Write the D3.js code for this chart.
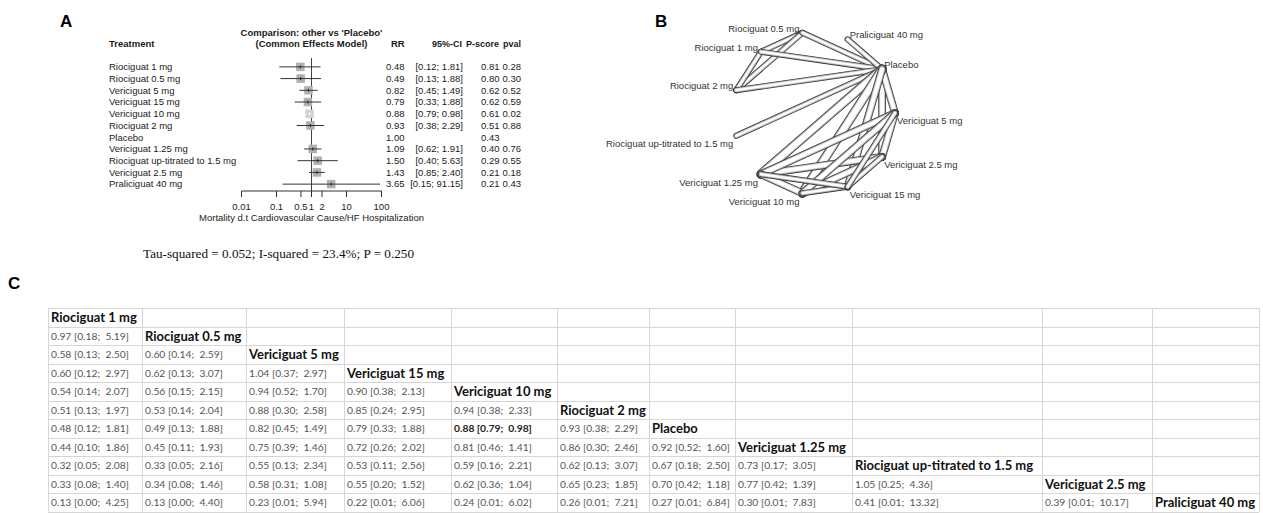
<!DOCTYPE html>
<html><head><meta charset="utf-8">
<script src="https://cdn.jsdelivr.net/npm/d3@7"></script>
<style>body{margin:0;background:#fff} svg{display:block}</style>
</head><body>
<svg id="c" width="1263" height="513"></svg>
<script>
// ---------- Panel A data ----------
const treatments = ["Riociguat 1 mg","Riociguat 0.5 mg","Vericiguat 5 mg","Vericiguat 15 mg","Vericiguat 10 mg","Riociguat 2 mg","Placebo","Vericiguat 1.25 mg","Riociguat up-titrated to 1.5 mg","Vericiguat 2.5 mg","Praliciguat 40 mg"];
const rr     = [0.48,0.49,0.82,0.79,0.88,0.93,1.00,1.09,1.50,1.43,3.65];
const ciLow  = [0.12,0.13,0.45,0.33,0.79,0.38,null,0.62,0.40,0.85,0.15];
const ciHigh = [1.81,1.88,1.49,1.88,0.98,2.29,null,1.91,5.63,2.40,91.15];
const pScore = [0.81,0.80,0.62,0.62,0.61,0.51,0.43,0.40,0.29,0.21,0.21];
const pVal   = [0.28,0.30,0.52,0.59,0.02,0.88,null,0.76,0.55,0.18,0.43];
const xTicks = [0.01,0.1,0.5,1,2,10,100];
const xTickLabels = ["0.01","0.1","0.5","1","2","10","100"];
const heterogeneity = "Tau-squared = 0.052; I-squared = 23.4%; P = 0.250";

// ---------- Panel B data ----------
const netNodes = ["Vericiguat 5 mg","Vericiguat 2.5 mg","Vericiguat 15 mg","Vericiguat 10 mg","Vericiguat 1.25 mg","Riociguat up-titrated to 1.5 mg","Riociguat 2 mg","Riociguat 1 mg","Riociguat 0.5 mg","Praliciguat 40 mg","Placebo"];
const edgeFrom = ["Riociguat 0.5 mg","Riociguat 0.5 mg","Riociguat 1 mg","Riociguat 0.5 mg","Riociguat 1 mg","Riociguat 2 mg","Riociguat up-titrated to 1.5 mg","Praliciguat 40 mg",
  "Vericiguat 1.25 mg","Vericiguat 2.5 mg","Vericiguat 5 mg","Vericiguat 10 mg","Vericiguat 15 mg",
  "Vericiguat 1.25 mg","Vericiguat 1.25 mg","Vericiguat 1.25 mg","Vericiguat 2.5 mg","Vericiguat 2.5 mg","Vericiguat 5 mg","Vericiguat 10 mg","Vericiguat 1.25 mg","Vericiguat 2.5 mg","Vericiguat 5 mg"];
const edgeTo   = ["Riociguat 1 mg","Riociguat 2 mg","Riociguat 2 mg","Placebo","Placebo","Placebo","Placebo","Placebo",
  "Placebo","Placebo","Placebo","Placebo","Placebo",
  "Vericiguat 2.5 mg","Vericiguat 5 mg","Vericiguat 10 mg","Vericiguat 5 mg","Vericiguat 10 mg","Vericiguat 10 mg","Vericiguat 15 mg","Vericiguat 15 mg","Vericiguat 15 mg","Vericiguat 15 mg"];
const edgeStudies = [1,1,1,1,1,1,1,1, 3,2,2,3,2, 2,2,2,2,2,2,1,1,1,1];

// ---------- Panel C data ----------
const leagueNames = ["Riociguat 1 mg","Riociguat 0.5 mg","Vericiguat 5 mg","Vericiguat 15 mg","Vericiguat 10 mg","Riociguat 2 mg","Placebo","Vericiguat 1.25 mg","Riociguat up-titrated to 1.5 mg","Vericiguat 2.5 mg","Praliciguat 40 mg"];
const leagueEst = [[],[0.97],[0.58,0.60],[0.60,0.62,1.04],[0.54,0.56,0.94,0.90],[0.51,0.53,0.88,0.85,0.94],
  [0.48,0.49,0.82,0.79,0.88,0.93],[0.44,0.45,0.75,0.72,0.81,0.86,0.92],[0.32,0.33,0.55,0.53,0.59,0.62,0.67,0.73],
  [0.33,0.34,0.58,0.55,0.62,0.65,0.70,0.77,1.05],[0.13,0.13,0.23,0.22,0.24,0.26,0.27,0.30,0.41,0.39]];
const leagueLo = [[],[0.18],[0.13,0.14],[0.12,0.13,0.37],[0.14,0.15,0.52,0.38],[0.13,0.14,0.30,0.24,0.38],
  [0.12,0.13,0.45,0.33,0.79,0.38],[0.10,0.11,0.39,0.26,0.46,0.30,0.52],[0.05,0.05,0.13,0.11,0.16,0.13,0.18,0.17],
  [0.08,0.08,0.31,0.20,0.36,0.23,0.42,0.42,0.25],[0.00,0.00,0.01,0.01,0.01,0.01,0.01,0.01,0.01,0.01]];
const leagueHi = [[],[5.19],[2.50,2.59],[2.97,3.07,2.97],[2.07,2.15,1.70,2.13],[1.97,2.04,2.58,2.95,2.33],
  [1.81,1.88,1.49,1.88,0.98,2.29],[1.86,1.93,1.46,2.02,1.41,2.46,1.60],[2.08,2.16,2.34,2.56,2.21,3.07,2.50,3.05],
  [1.40,1.46,1.08,1.52,1.04,1.85,1.18,1.39,4.36],[4.25,4.40,5.94,6.06,6.02,7.21,6.84,7.83,13.32,10.17]];
const leagueSignificant = [[6,4]]; // row, col shown in bold

// ---------- drawing ----------
const svg = d3.select("#c");
const f2 = d3.format(".2f");
const SANS = "'Liberation Sans', Arial, sans-serif";
const FS = 9.5;

// Panel labels
svg.append("text").attr("x",60).attr("y",27).attr("font-family",SANS).attr("font-weight","bold").attr("font-size",17).text("A");
svg.append("text").attr("x",655).attr("y",27).attr("font-family",SANS).attr("font-weight","bold").attr("font-size",17).text("B");
svg.append("text").attr("x",8).attr("y",289).attr("font-family",SANS).attr("font-weight","bold").attr("font-size",17).text("C");

// ---- Panel A: forest plot ----
const gA = svg.append("g").attr("font-family",SANS).attr("font-size",FS).attr("fill","#1a1a1a");
const x = d3.scaleLog().domain([0.01,100]).range([241.5,381.5]);
const y = d3.scaleBand().domain(treatments).range([61,190]);
const yc = t => y(t) + y.bandwidth()/2;

gA.append("text").attr("x",x(1)).attr("y",36).attr("text-anchor","middle").attr("font-weight","bold").text("Comparison: other vs 'Placebo'");
gA.append("text").attr("x",x(1)).attr("y",47).attr("text-anchor","middle").attr("font-weight","bold").text("(Common Effects Model)");
gA.append("text").attr("x",109).attr("y",47).attr("font-weight","bold").text("Treatment");
gA.append("text").attr("x",391).attr("y",47).attr("font-weight","bold").text("RR");
gA.append("text").attr("x",462).attr("y",47).attr("text-anchor","end").attr("font-weight","bold").attr("font-size",9).text("95%-CI");
gA.append("text").attr("x",466).attr("y",47).attr("font-weight","bold").attr("font-size",9).text("P-score");
gA.append("text").attr("x",521).attr("y",47).attr("text-anchor","end").attr("font-weight","bold").attr("font-size",9).text("pval");

const rows = gA.selectAll("g.row").data(treatments).join("g").attr("class","row");
rows.append("text").attr("x",109).attr("y",t=>yc(t)).attr("dy","0.35em").text(t=>t);
rows.append("text").attr("x",386).attr("y",t=>yc(t)).attr("dy","0.35em").text((t,i)=>f2(rr[i]));
rows.append("text").attr("x",463).attr("y",t=>yc(t)).attr("dy","0.35em").attr("text-anchor","end")
  .text((t,i)=>ciLow[i]==null?"":`[${f2(ciLow[i])}; ${f2(ciHigh[i])}]`);
rows.append("text").attr("x",481).attr("y",t=>yc(t)).attr("dy","0.35em").text((t,i)=>f2(pScore[i]));
rows.append("text").attr("x",521).attr("y",t=>yc(t)).attr("dy","0.35em").attr("text-anchor","end").text((t,i)=>pVal[i]==null?"":f2(pVal[i]));

// reference line
gA.append("line").attr("x1",x(1)).attr("x2",x(1)).attr("y1",58).attr("y2",191).attr("stroke","#444").attr("stroke-width",1);
// squares & CIs
const narrow = i => ciHigh[i]-ciLow[i]<0.5;
const marks = gA.selectAll("g.mark").data(treatments.map((t,i)=>({t,i})).filter(d=>ciLow[d.i]!=null)).join("g").attr("class","mark");
const SQ = 8.5;
marks.append("rect").attr("x",d=>x(rr[d.i])-SQ/2).attr("y",d=>yc(d.t)-SQ/2).attr("width",SQ).attr("height",SQ)
  .attr("fill",d=>narrow(d.i)?"#d2d2d2":"#b0b0b0");
marks.append("line").attr("x1",d=>x(ciLow[d.i])).attr("x2",d=>x(Math.min(ciHigh[d.i],100))).attr("y1",d=>yc(d.t)).attr("y2",d=>yc(d.t))
  .attr("stroke",d=>narrow(d.i)?"#ececec":"#333").attr("stroke-width",1);
marks.append("line").attr("x1",d=>x(rr[d.i])).attr("x2",d=>x(rr[d.i])).attr("y1",d=>yc(d.t)-1.5).attr("y2",d=>yc(d.t)+1.5)
  .attr("stroke",d=>narrow(d.i)?"#f6f6f6":"#222").attr("stroke-width",1);

// axis
const axY = 191;
gA.append("line").attr("x1",x(0.01)).attr("x2",x(100)).attr("y1",axY).attr("y2",axY).attr("stroke","#333");
gA.selectAll("line.tk").data(xTicks).join("line").attr("class","tk").attr("x1",d=>x(d)).attr("x2",d=>x(d)).attr("y1",axY).attr("y2",axY+6).attr("stroke","#333");
gA.selectAll("text.tl").data(xTicks).join("text").attr("class","tl").attr("x",d=>x(d)).attr("y",207).attr("dy","0.35em").attr("text-anchor","middle").text((d,i)=>xTickLabels[i]);
gA.append("text").attr("x",x(1)).attr("y",218).attr("dy","0.35em").attr("text-anchor","middle").text("Mortality d.t Cardiovascular Cause/HF Hospitalization");

svg.append("text").attr("x",143).attr("y",253).attr("dy","0.35em").attr("font-family","'Liberation Serif','Times New Roman',serif").attr("font-size",13.2).attr("fill","#111").text(heterogeneity);

// ---- Panel B: network graph ----
const gB = svg.append("g");
const ang = d3.scaleLinear().domain([0,netNodes.length]).range([0,2*Math.PI]);
const nx = d3.scaleLinear().domain([-1,1]).range([733,895]);
const ny = d3.scaleLinear().domain([-1,1]).range([32,194]);
const pos = {};
netNodes.forEach((n,i)=>{ const a=ang(i); pos[n]={x:nx(Math.cos(a)),y:ny(Math.sin(a)),c:Math.cos(a),s:Math.sin(a)}; });
const wScale = d3.scaleLinear().domain([1,3]).range([6,9.5]);
const edges = edgeFrom.map((f,i)=>({a:pos[f],b:pos[edgeTo[i]],w:wScale(edgeStudies[i])}));
const layers = [{c:"#303030",d:0},{c:"#858585",d:1.2},{c:"#bdbdbd",d:2.2},{c:"#e4e4e4",d:3.2},{c:"#ffffff",d:4.3}];
edges.forEach(e=>{
  layers.forEach(L=>{
    const w=e.w-L.d; if(w<=0.4) return;
    gB.append("line").attr("x1",e.a.x).attr("y1",e.a.y).attr("x2",e.b.x).attr("y2",e.b.y)
      .attr("stroke",L.c).attr("stroke-width",w).attr("stroke-linecap","round");
  });
});
gB.selectAll("text").data(netNodes).join("text")
  .attr("font-family",SANS).attr("font-size",FS).attr("fill","#333")
  .attr("x",n=>pos[n].c>0?pos[n].x+2:pos[n].x-3)
  .attr("y",n=>pos[n].s< -0.05?pos[n].y-4.5:pos[n].y+8)
  .attr("dy","0.35em")
  .attr("text-anchor",n=>pos[n].c>0?"start":"end")
  .text(n=>n);

// ---- Panel C: league table ----
const colX = [48,142,246,344,451,557,649,735,852,1042,1152,1259];
const ry = d3.scaleBand().domain(d3.range(leagueNames.length)).range([308,511.5]);
const gC = svg.append("g");
ry.domain().concat([leagueNames.length]).forEach(i=>{
  const yy = i<leagueNames.length?ry(i):ry.range()[1];
  gC.append("line").attr("x1",colX[0]).attr("x2",colX[colX.length-1]).attr("y1",Math.round(yy)+0.5).attr("y2",Math.round(yy)+0.5).attr("stroke","#d6d6d6");
});
colX.forEach(cx=>gC.append("line").attr("x1",cx+0.5).attr("x2",cx+0.5).attr("y1",308).attr("y2",511.5).attr("stroke","#d6d6d6"));
const isSig = (r,c)=>leagueSignificant.some(s=>s[0]===r&&s[1]===c);
leagueNames.forEach((name,r)=>{
  const cy = ry(r)+ry.bandwidth()/2+0.5;
  leagueEst[r].forEach((v,c)=>{
    gC.append("text").attr("x",colX[c]+3).attr("y",cy).attr("dy","0.35em")
      .attr("font-family","Lato, 'Noto Sans', sans-serif").attr("font-size",10.3)
      .attr("font-weight",isSig(r,c)?"bold":"normal")
      .attr("fill",isSig(r,c)?"#222":"#555")
      .style("white-space","pre")
      .text(`${f2(v)} [${f2(leagueLo[r][c])};  ${f2(leagueHi[r][c])}]`);
  });
  gC.append("text").attr("x",colX[r]+3).attr("y",cy).attr("dy","0.35em")
    .attr("font-family","Lato, 'Noto Sans', sans-serif").attr("font-size",13).attr("font-weight","bold").attr("fill","#111")
    .text(name);
});
</script>
</body></html>
